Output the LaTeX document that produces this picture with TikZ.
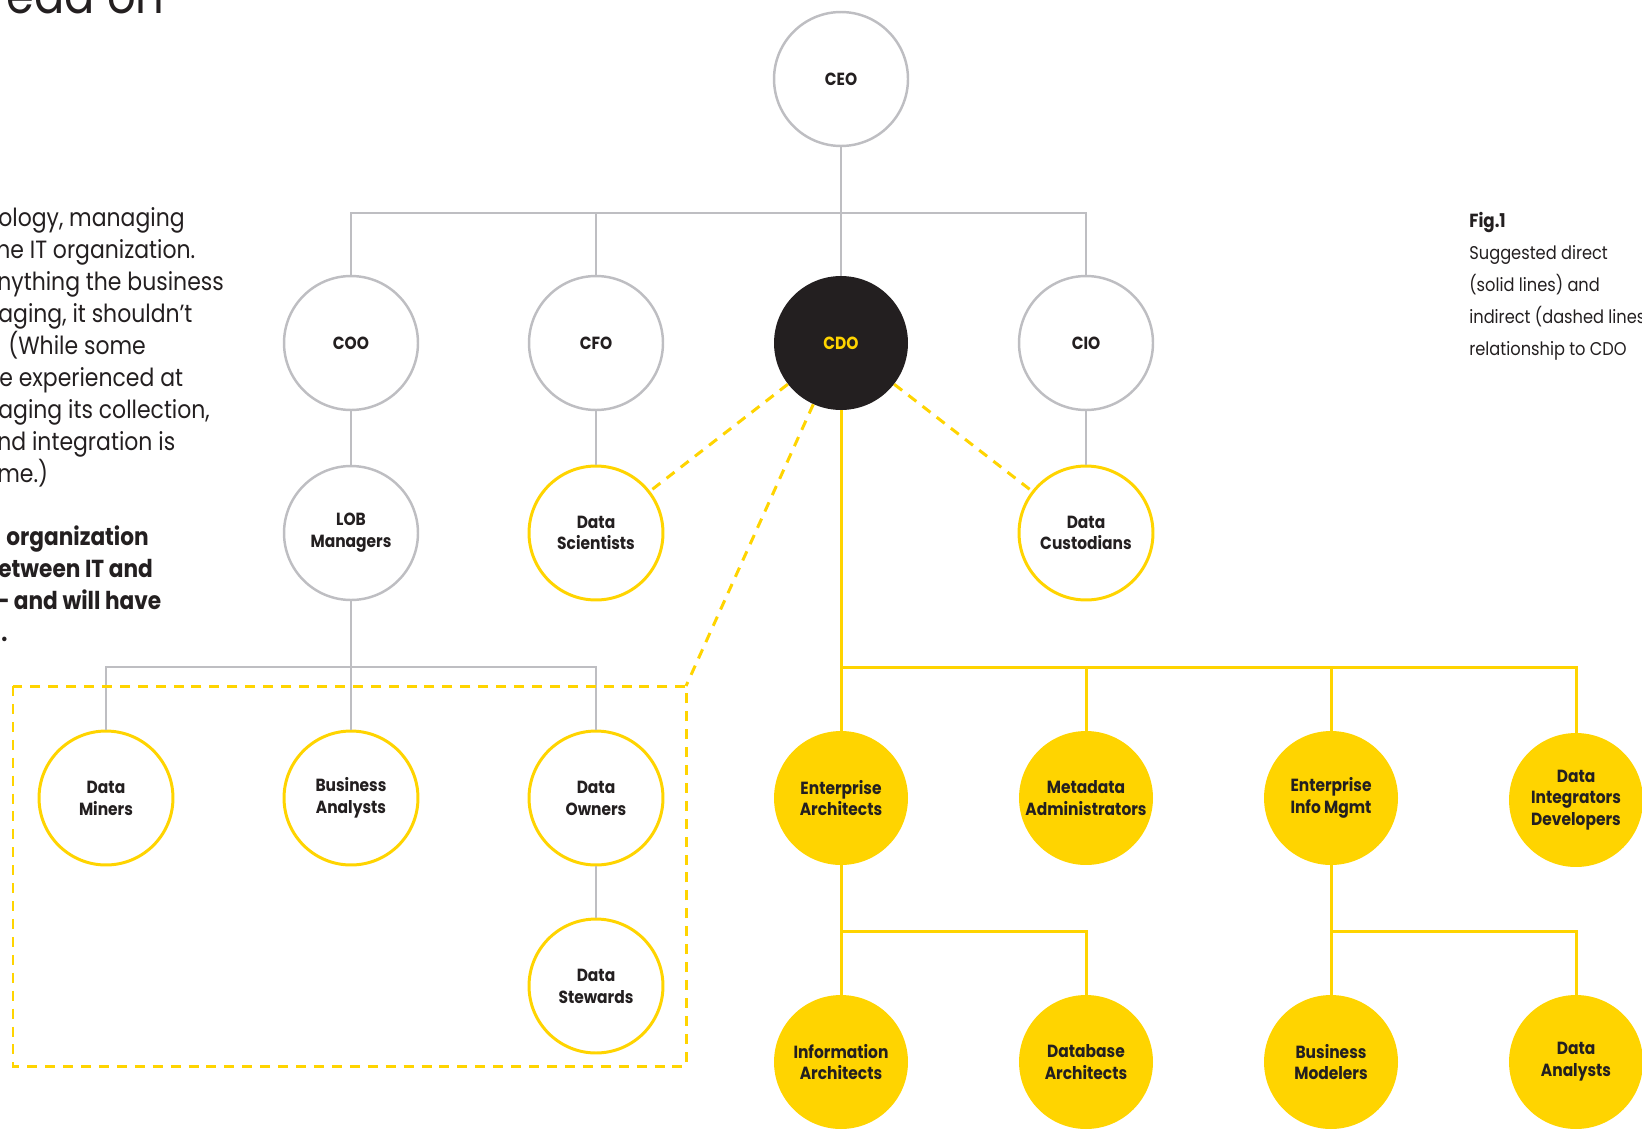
\documentclass[tikz,border=0pt]{standalone}
\usepackage{fontspec}
\setmainfont{Poppins}[FakeStretch=0.88]
\usepackage{tikz}

\definecolor{cdoyellow}{HTML}{FFD400}
\definecolor{linegray}{HTML}{BEBEC2}
\definecolor{ink}{HTML}{231F20}

\tikzset{
	role/.style={circle, minimum size=2.68cm, inner sep=0pt, align=center, text=ink,
		font=\bfseries\fontsize{10}{12.4}\selectfont},
	grayrole/.style={role, draw=linegray, line width=1.4pt, fill=white},
	openrole/.style={role, draw=cdoyellow, line width=1.7pt, fill=white},
	fullrole/.style={role, fill=cdoyellow},
	grayline/.style={draw=linegray, line width=1.4pt},
	yellowline/.style={draw=cdoyellow, line width=1.7pt},
	dashline/.style={yellowline, dash pattern=on 5.7pt off 4.5pt},
	bodytext/.style={anchor=base west, inner sep=0pt, text=ink, font=\fontsize{14.2}{16}\selectfont},
	boldtext/.style={bodytext, font=\bfseries\fontsize{14}{16}\selectfont},
	notetext/.style={anchor=base west, inner sep=0pt, text=ink, font=\fontsize{10.5}{12}\selectfont},
}

\begin{document}
\begin{tikzpicture}[x=0.02cm, y=-0.02cm]
			\useasboundingbox (0,0) rectangle (1642,1129);
			\clip (0,0) rectangle (1642,1129);

			\node[anchor=base east, inner sep=0pt, text=ink, font=\fontsize{29}{29}\selectfont] (title) at (165,13) {ead on};

			\node[bodytext] (t1) at (-2,226) {ology, managing};
			\node[bodytext] (t2) at (-4,258) {he IT organization.};
			\node[bodytext] (t3) at (-3,290) {nything the business};
			\node[bodytext] (t4) at (-2,322) {aging, it shouldn’t};
			\node[bodytext] (t5) at (8,354) {(While some};
			\node[bodytext] (t6) at (-1,386) {e experienced at};
			\node[bodytext] (t7) at (-2,418) {aging its collection,};
			\node[bodytext] (t8) at (-3,450) {nd integration is};
			\node[bodytext] (t9) at (-3,482) {me.)};
			\node[boldtext] (b1) at (6,545) {organization};
			\node[boldtext] (b2) at (-2,577) {etween IT and};
			\node[boldtext] (b3) at (-6,609) {– and will have};
			\node[boldtext] (b4) at (1,641) {.};

			\node[notetext, font=\bfseries\fontsize{10.8}{12}\selectfont] (fig) at (1469,227) {Fig.1};
			\node[notetext] (n1) at (1469,259) {Suggested direct};
			\node[notetext] (n2) at (1469,291) {(solid lines) and};
			\node[notetext] (n3) at (1469,323) {indirect (dashed lines)};
			\node[notetext] (n4) at (1469,355) {relationship to CDO};

			\node[grayrole] (ceo) at (841,79) {CEO};
			\node[grayrole] (coo) at (351,343) {COO};
			\node[grayrole] (cfo) at (596,343) {CFO};
			\node[role, fill=ink, text=cdoyellow] (cdo) at (841,343) {CDO};
			\node[grayrole] (cio) at (1086,343) {CIO};

			\node[grayrole] (lob) at (351,533) {LOB\\Managers};
			\node[openrole] (ds) at (596,533) {Data\\Scientists};
			\node[openrole] (dc) at (1086,533) {Data\\Custodians};

			\node[openrole] (dm) at (106,798) {Data\\Miners};
			\node[openrole] (ba) at (351,798) {Business\\Analysts};
			\node[openrole] (do) at (596,798) {Data\\Owners};
			\node[openrole] (dst) at (596,986) {Data\\Stewards};

			\node[fullrole] (ea) at (841,798) {Enterprise\\Architects};
			\node[fullrole] (ma) at (1086,798) {Metadata\\Administrators};
			\node[fullrole] (eim) at (1331,798) {Enterprise\\Info Mgmt};
			\node[fullrole] (di) at (1576,800) {Data\\Integrators\\Developers};

			\node[fullrole] (ia) at (841,1062) {Information\\Architects};
			\node[fullrole] (dba) at (1086,1062) {Database\\Architects};
			\node[fullrole] (bm) at (1331,1062) {Business\\Modelers};
			\node[fullrole] (dan) at (1576,1062) {Data\\Analysts};

			\coordinate (topbar) at (0,213);
			\coordinate (lobbar) at (0,667);
			\coordinate (cdobar) at (0,667);
			\coordinate (eabar) at (0,931);
			\coordinate (boxtl) at (13,686);
			\coordinate (boxbr) at (686,1066);

			\draw[grayline] (ceo) -- (ceo |- topbar);
			\draw[grayline] (coo) -- (coo |- topbar) -- (cio |- topbar) -- (cio);
			\draw[grayline] (cfo) -- (cfo |- topbar);
			\draw[grayline] (cdo) -- (cdo |- topbar);
			\draw[grayline] (coo) -- (lob);
			\draw[grayline] (cfo) -- (ds);
			\draw[grayline] (cio) -- (dc);
			\draw[grayline] (lob) -- (lob |- lobbar);
			\draw[grayline] (dm) -- (dm |- lobbar) -- (do |- lobbar) -- (do);
			\draw[grayline] (ba) -- (ba |- lobbar);
			\draw[grayline] (do) -- (dst);

			\draw[dashline] (boxtl) rectangle (boxbr);
			\draw[dashline] (cdo) -- (ds);
			\draw[dashline] (cdo) -- (dc);
			\draw[dashline] (cdo) -- (boxtl -| boxbr);

			\draw[yellowline] (cdo) -- (ea);
			\draw[yellowline] (ea |- cdobar) -- (di |- cdobar) -- (di);
			\draw[yellowline] (ma) -- (ma |- cdobar);
			\draw[yellowline] (eim) -- (eim |- cdobar);
			\draw[yellowline] (ea) -- (ia);
			\draw[yellowline] (ea |- eabar) -- (dba |- eabar) -- (dba);
			\draw[yellowline] (eim) -- (bm);
			\draw[yellowline] (eim |- eabar) -- (dan |- eabar) -- (dan);
\end{tikzpicture}
\end{document}
